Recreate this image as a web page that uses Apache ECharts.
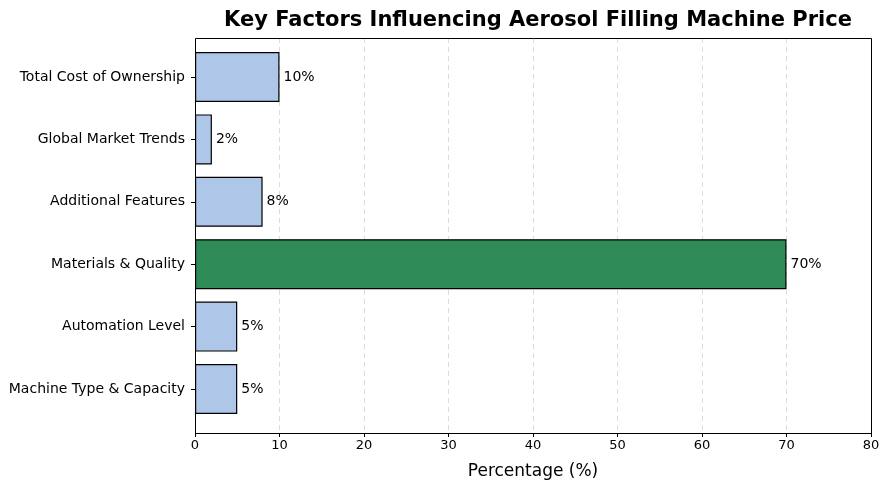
<!DOCTYPE html>
<html><head><meta charset="utf-8">
<script src="https://cdn.jsdelivr.net/npm/echarts@6/dist/echarts.min.js"></script>
<style>html,body{margin:0;padding:0;background:#fff}#c{width:890px;height:490px}</style>
</head><body><div id="c"></div>
<script>
const categories = ["Machine Type & Capacity","Automation Level","Materials & Quality","Additional Features","Global Market Trends","Total Cost of Ownership"];
const values = [5,5,70,8,2,10];
const colors = ["#aec7e8","#aec7e8","#2e8b57","#aec7e8","#aec7e8","#aec7e8"];
const xTicks = [0,10,20,30,40,50,60,70,80];

const chart = echarts.init(document.getElementById('c'), null, {renderer:'canvas'});
const font = 'DejaVu Sans';
chart.setOption({
  animation:false,
  title:{text:'Key Factors Influencing Aerosol Filling Machine Price', left:533, top:5, textAlign:'center',
    textStyle:{fontFamily:font, fontSize:21, fontWeight:'bold', color:'#000'}},
  grid:[
    {left:195, right:19, top:38, bottom:57, z:0},
    {left:195, right:19, top:45.8, bottom:69.8, z:2}
  ],
  graphic:[{type:'rect', shape:{x:195.5, y:38.5, width:676, height:395}, style:{fill:'none', stroke:'#000', lineWidth:1}, z:100, silent:true}],
  xAxis:[
    {gridIndex:0, type:'value', min:0, max:80, interval:10,
     name:'Percentage (%)', nameLocation:'middle', nameGap:30,
     nameTextStyle:{fontFamily:font, fontSize:17, color:'#000'},
     axisLine:{show:false},
     axisTick:{show:true, length:4, lineStyle:{color:'#000'}},
     axisLabel:{fontFamily:font, fontSize:13, color:'#000', margin:6},
     splitLine:{show:true, lineStyle:{color:'#dcdcdc', type:[5,4], width:1}}},
    {gridIndex:1, type:'value', min:0, max:80, show:false}
  ],
  yAxis:[
    {gridIndex:0, type:'value', min:0, max:1, show:false},
    {gridIndex:1, type:'category', data:categories,
     axisLine:{show:false},
     axisTick:{show:true, alignWithLabel:true, length:4, lineStyle:{color:'#000'}},
     axisLabel:{fontFamily:font, fontSize:14, color:'#000', margin:10},
     splitLine:{show:false}}
  ],
  series:[{
    type:'bar', xAxisIndex:1, yAxisIndex:1, barWidth:50,
    data: values.map((v,i)=>({value:v, itemStyle:{color:colors[i]}})),
    itemStyle:{borderColor:'#000', borderWidth:1.2},
    label:{show:true, position:'right', distance:4, formatter:p=>p.value+'%',
      fontFamily:font, fontSize:14, color:'#000'}
  }]
});
</script></body></html>
